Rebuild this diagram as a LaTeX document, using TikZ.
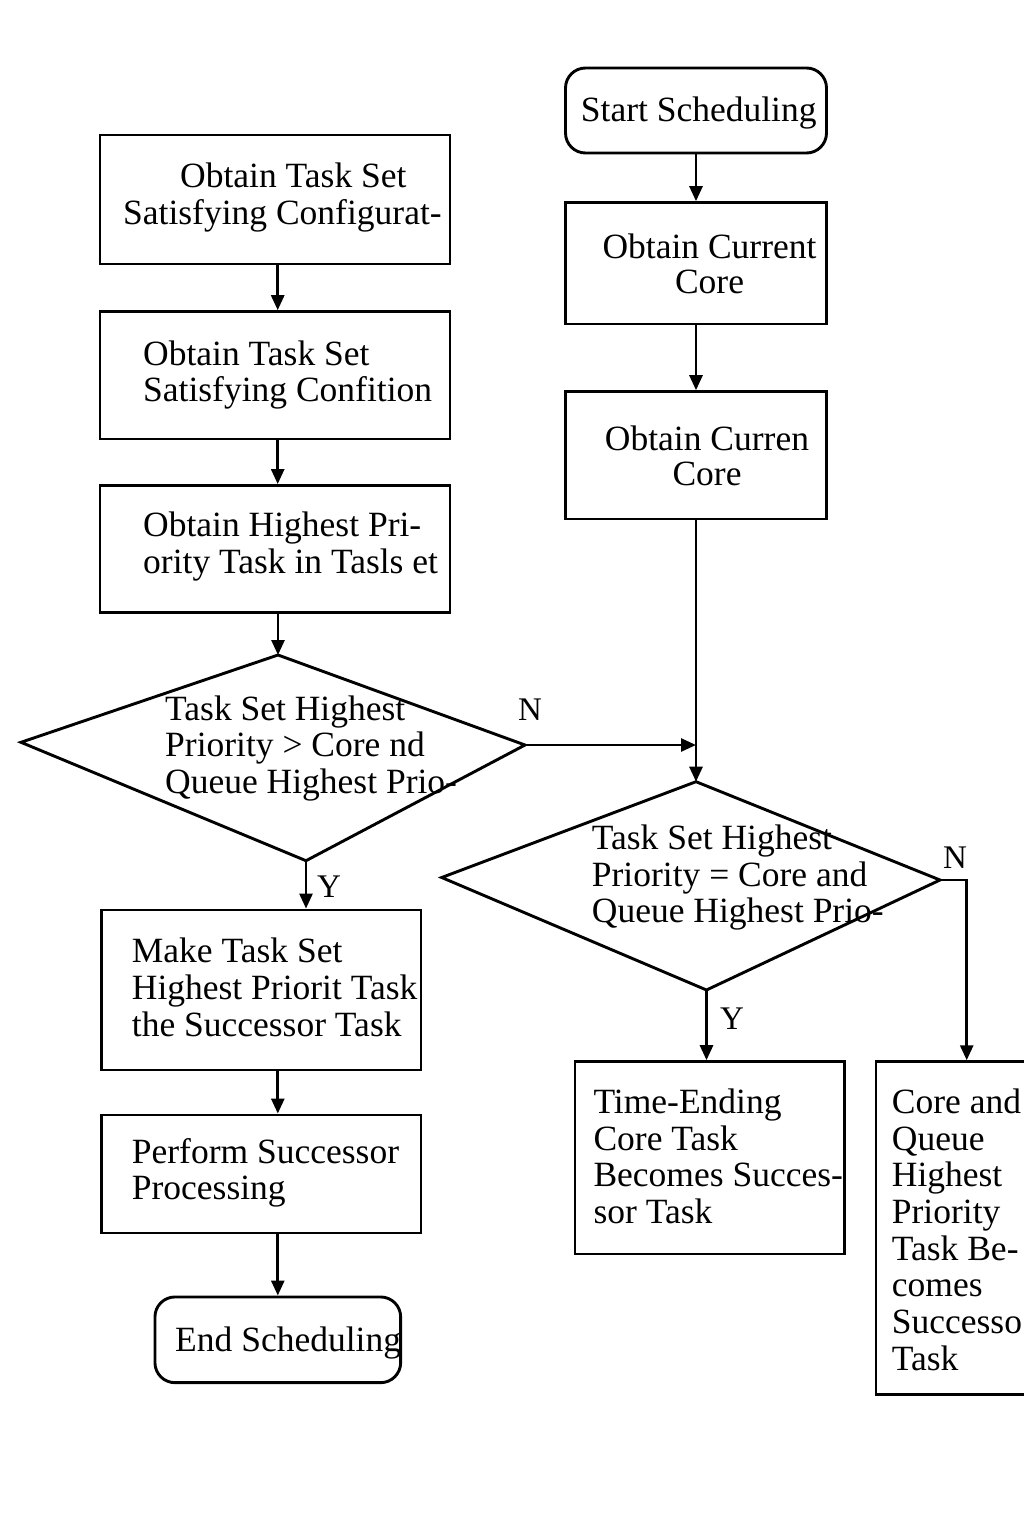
\documentclass[tikz,border=0pt]{standalone}
\usepackage{fontspec}
\setmainfont{Liberation Serif}
\usetikzlibrary{arrows.meta,calc}
\newcommand{\blines}[2]{\begin{tabular}[t]{@{}#1@{}}#2\end{tabular}}
\tikzset{
  box/.style={draw, line width=2.9pt, rectangle, inner sep=0pt},
  term/.style={box, rounded corners=20pt},
  shapeline/.style={draw, line width=2.9pt, line join=miter},
  txt/.style={inner sep=0pt, anchor=base west, font=\fontsize{35.5}{36.7}\selectfont},
  txtc/.style={inner sep=0pt, anchor=base, font=\fontsize{35.5}{35.5}\selectfont},
  lbl/.style={inner sep=0pt, anchor=base west, font=\fontsize{33}{36}\selectfont},
  conn/.style={line width=2.7pt},
  arr/.style={conn, -{Triangle[length=15pt,width=13pt]}},
}
\begin{document}
\begin{tikzpicture}[x=1pt,y=1pt]
\useasboundingbox (0,0) rectangle (1024,-1536);
\fill[white] (0,0) rectangle (1024,-1536);
\clip (0,0) rectangle (1024,-1536);

% right column boxes
\node[term, minimum width=261pt, minimum height=85pt] (start) at (696,-110.5) {};
\node[box, minimum width=261pt, minimum height=121.3pt] (cur1) at (696,-263.3) {};
\node[box, minimum width=261pt, minimum height=127.3pt] (cur2) at (696,-455.3) {};

% left column boxes
\node[box, minimum width=350pt, minimum height=129pt] (b1) at (275,-199.5) {};
\node[box, minimum width=350pt, minimum height=127.3pt] (b2) at (275,-375.3) {};
\node[box, minimum width=350pt, minimum height=127.2pt] (b3) at (275,-549.1) {};
\node[box, minimum width=319.3pt, minimum height=160pt] (make) at (261.3,-990) {};
\node[box, minimum width=319.3pt, minimum height=118pt] (perf) at (261.3,-1174) {};
\node[term, minimum width=245.7pt, minimum height=85.7pt] (end) at (277.8,-1339.8) {};

% bottom right boxes
\node[box, minimum width=269.5pt, minimum height=192.3pt] (time) at (709.7,-1157.8) {};
\node[box, minimum width=169pt, minimum height=332.6pt] (core) at (960.5,-1228) {};

% decisions
\coordinate (d1t) at (278,-655);
\coordinate (d1r) at (525,-745);
\coordinate (d1b) at (306,-860.7);
\coordinate (d1l) at (21,-742.3);
\draw[shapeline] (d1t) -- (d1r) -- (d1b) -- (d1l) -- cycle;
\coordinate (d2t) at (696,-781.7);
\coordinate (d2r) at (940,-880);
\coordinate (d2b) at (706.5,-990);
\coordinate (d2l) at (441.7,-877.5);
\draw[shapeline] (d2t) -- (d2r) -- (d2b) -- (d2l) -- cycle;

% texts
\node[txt] (tstart) at (580.7,-121.7) {Start Scheduling};
\node[txtc] (tcur1) at (709.5,-258.3) {\blines{c}{Obtain Current\\Core}};
\node[txtc, font=\fontsize{35.5}{35.7}\selectfont] (tcur2) at (707,-450) {\blines{c}{Obtain Curren\\Core}};
\node[txt, font=\fontsize{35.5}{36.3}\selectfont] (tb1) at (123,-187.7) {\blines{l}{\hspace*{57pt}Obtain Task Set\\Satisfying Configurat-}};
\node[txt] (tb2) at (143,-365) {\blines{l}{Obtain Task Set\\Satisfying Confition}};
\node[txt] (tb3) at (143,-536.7) {\blines{l}{Obtain Highest Pri-\\ority Task in Tasls et}};
\node[txt] (td1) at (165,-720) {\blines{l}{Task Set Highest\\Priority > Core nd\\Queue Highest Prio-}};
\node[txt] (td2) at (591.7,-849.3) {\blines{l}{Task Set Highest\\Priority = Core and\\Queue Highest Prio-}};
\node[txt] (tmake) at (131.7,-962.7) {\blines{l}{Make Task Set\\Highest Priorit Task\\the Successor Task}};
\node[txt] (tperf) at (131.7,-1163) {\blines{l}{Perform Successor\\Processing}};
\node[txt] (tend) at (175,-1351.7) {End Scheduling};
\node[txt] (ttime) at (593.3,-1113.3) {\blines{l}{Time-Ending\\Core Task\\Becomes Succes-\\sor Task}};
\node[txt] (tcore) at (891.7,-1113.3) {\blines{l}{Core and\\Queue\\Highest\\Priority\\Task Be-\\comes\\Successo\\Task}};

% branch labels
\node[lbl] (n1) at (518,-720) {N};
\node[lbl] (y1) at (317,-897) {Y};
\node[lbl] (n2) at (943,-868) {N};
\node[lbl] (y2) at (720,-1029) {Y};

% connectors
\draw[arr] (start.south) -- (cur1.north);
\draw[arr] (cur1.south) -- (cur2.north);
\draw[arr] (cur2.south) -- (d2t);
\draw[arr] (d1r) -- (d1r -| d2t);
\draw[arr] ([xshift=2.7pt]b1.south) -- ([xshift=2.7pt]b2.north);
\draw[arr] ([xshift=2.7pt]b2.south) -- ([xshift=2.7pt]b3.north);
\draw[arr] (b3.south -| d1t) -- (d1t);
\draw[arr] (d1b) -- (d1b |- make.north);
\draw[arr] (make.south -| end.north) -- (perf.north -| end.north);
\draw[arr] (perf.south -| end.north) -- (end.north);
\draw[arr] (d2b) -- (d2b |- time.north);
\draw[arr] (d2r) -| ([xshift=6.2pt]core.north);
\end{tikzpicture}
\end{document}
